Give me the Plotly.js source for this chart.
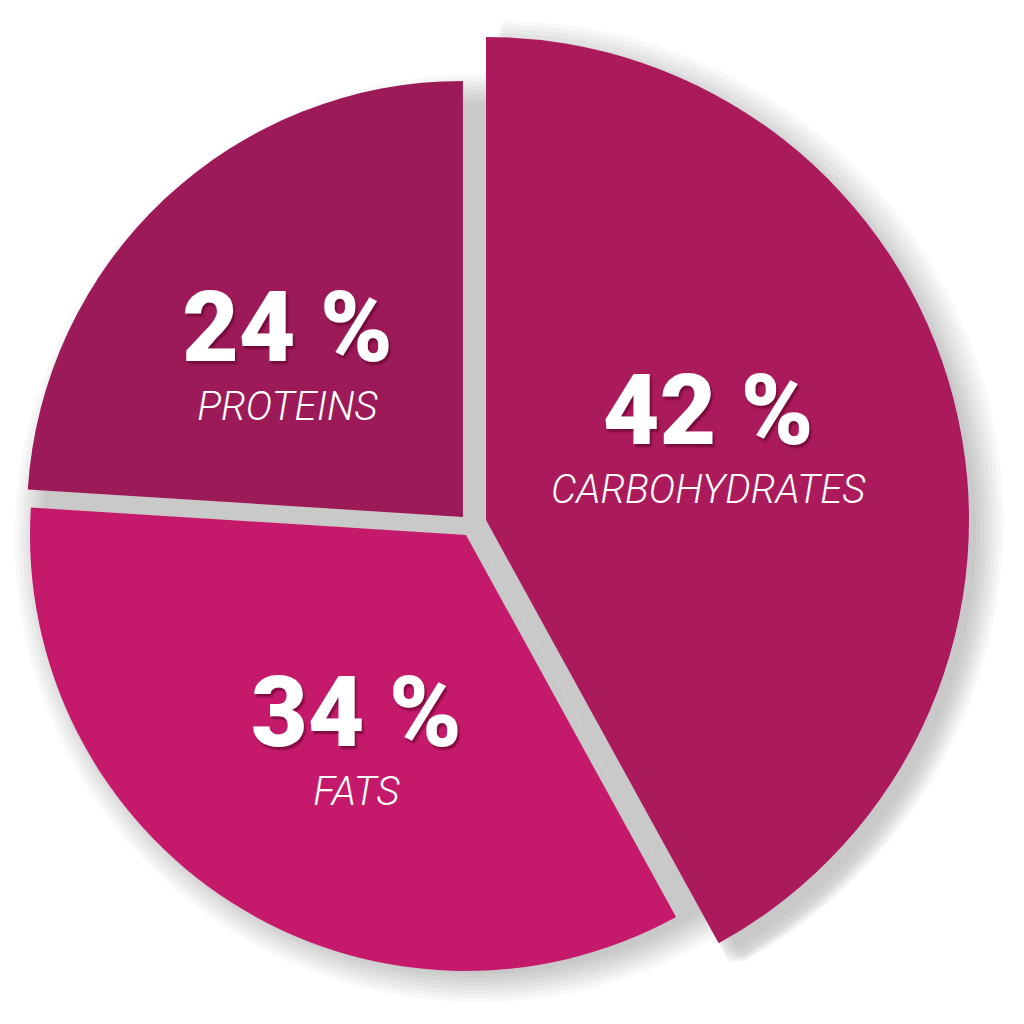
<!DOCTYPE html>
<html><head><meta charset="utf-8">
<script src="https://cdn.plot.ly/plotly-3.0.1.min.js"></script>
<style>html,body{margin:0;padding:0;background:#fff}</style>
</head><body><div id="chart" style="width:1024px;height:1024px"></div>
<script>
// ---- data ----
const labels = ['CARBOHYDRATES', 'FATS', 'PROTEINS'];
const values = [42, 34, 24];
const colors = ['#AB1A5B', '#C51A6B', '#9D1A59'];
const pullsSmall = [0, 0.024, 0.029];

// ---- layout helpers ----
const W = 1024, H = 1024;
const bigC = [486, 520], bigR = 483;          // enlarged carbohydrates slice
const smallC = [471.6, 526.1], smallR = 436;   // fats & proteins pie
function dom(cx, cy, r) {
  return {x: [(cx - r) / W, (cx + r) / W], y: [(H - cy - r) / H, (H - cy + r) / H]};
}
const T = 'rgba(0,0,0,0)';
const total = values.reduce((a, b) => a + b, 0);
const base = {
  type: 'pie', labels: labels, values: values, sort: false, direction: 'clockwise', rotation: 0,
  hoverinfo: 'skip', showlegend: false, textinfo: 'none'
};
const traces = [];

// soft shadow layers (offset down-right)
const N = 8, sdx = 7, sdy = 12;
for (let k = N - 1; k >= 0; k--) {
  const g = 'rgba(0,0,0,0.026)';
  traces.push(Object.assign({}, base, {
    marker: {colors: values.map(() => g), line: {width: 0}},
    domain: dom(smallC[0] + sdx, smallC[1] + sdy, smallR + k * 4)
  }));
  traces.push(Object.assign({}, base, {
    marker: {colors: values.map((v, i) => i === 0 ? g : T), line: {width: 0}},
    domain: dom(bigC[0] + sdx, bigC[1] + sdy, bigR + k * 4)
  }));
}

// large carbohydrates slice
traces.push(Object.assign({}, base, {
  marker: {colors: colors.map((c, i) => i === 0 ? c : T), line: {width: 0}},
  domain: dom(bigC[0], bigC[1], bigR)
}));

// fats & proteins (slightly pulled)
traces.push(Object.assign({}, base, {
  marker: {colors: colors.map((c, i) => i === 0 ? T : c), line: {width: 0}},
  pull: pullsSmall,
  domain: dom(smallC[0], smallC[1], smallR * (1 + Math.max(...pullsSmall)))
}));

// labels placed from the slice angles
const annotations = [];
let cum = 0;
values.forEach((v, i) => {
  const mid = (cum + v / 2) / total * 2 * Math.PI;
  cum += v;
  let cx, cy;
  if (i === 0) { cx = bigC[0]; cy = bigC[1]; }
  else {
    cx = smallC[0] + pullsSmall[i] * smallR * Math.sin(mid);
    cy = smallC[1] - pullsSmall[i] * smallR * Math.cos(mid);
  }
  const a = mid - 4.8 * Math.PI / 180, r = 236;
  const px = cx + r * Math.sin(a), py = cy - r * Math.cos(a);
  annotations.push({
    xref: 'paper', yref: 'paper', x: px / W, y: 1 - py / H, xanchor: 'center', yanchor: 'middle',
    yshift: 9, showarrow: false, align: 'center',
    font: {family: 'Roboto', size: 45, color: '#ffffff'},
    text: '<span style="font-size:98px;font-weight:900;text-shadow:2px 3px 2px rgba(80,0,35,0.55)">' +
      v + ' %</span><br><span style="font-size:40px;font-weight:300;font-style:italic">' + labels[i] + '</span>'
  });
});

Plotly.newPlot('chart', traces, {
  width: W, height: H, margin: {l: 0, r: 0, t: 0, b: 0},
  paper_bgcolor: '#ffffff', showlegend: false, annotations: annotations
}, {staticPlot: true});
</script></body></html>
